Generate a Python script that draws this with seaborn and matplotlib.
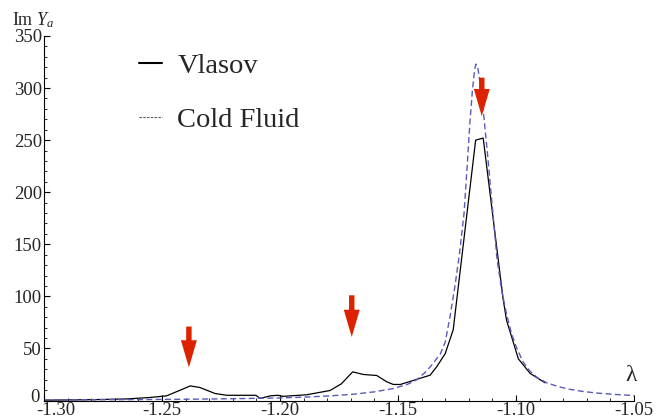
import numpy as np
import pandas as pd
import seaborn as sns
import matplotlib.pyplot as plt
from matplotlib.ticker import MultipleLocator
from matplotlib.transforms import ScaledTranslation

# data
vlasov_x = [-1.300, -1.280, -1.265, -1.255, -1.248, -1.238, -1.234, -1.2275, -1.2225,
            -1.213, -1.2102, -1.2085, -1.204, -1.2008, -1.1987, -1.1887, -1.1788,
            -1.174, -1.1692, -1.1647, -1.159, -1.1548, -1.152, -1.149, -1.1364,
            -1.1336, -1.130, -1.1266, -1.1171, -1.1139, -1.1055, -1.104,
            -1.099, -1.094, -1.0877]
vlasov_y = [0.3, 0.8, 1.5, 2.9, 4.5, 14, 12.5, 6.7, 5,
            5, 5, 2, 4.5, 5, 4, 5.5, 9.6,
            16, 27.5, 25, 24, 18, 15.4, 15.4, 24.3,
            32.4, 45, 68, 250, 252, 98, 77,
            40, 26, 17]

cold_x = [-1.300, -1.280, -1.260, -1.240, -1.220, -1.200, -1.190, -1.180, -1.170,
          -1.160, -1.152, -1.146, -1.142, -1.138, -1.135, -1.132, -1.130, -1.128,
          -1.126, -1.124, -1.122, -1.1205, -1.1195, -1.119, -1.1185, -1.118, -1.1175,
          -1.117, -1.1165, -1.116, -1.1155, -1.115, -1.1135, -1.112, -1.110, -1.108,
          -1.106, -1.104, -1.102, -1.100, -1.097, -1.094, -1.091, -1.087, -1.083,
          -1.078, -1.072, -1.066, -1.058, -1.050]
cold_y = [0.5, 0.7, 0.9, 1.2, 1.7, 2.5, 3.2, 4.3, 5.8,
          8.3, 11.5, 15.5, 20, 28, 36, 45, 56, 80,
          108, 140, 180, 232, 268, 282, 297, 308, 318,
          323, 322, 317, 309, 300, 270, 235, 185, 135,
          105, 83, 65, 52, 37, 28, 22, 17, 14,
          11, 8.8, 7.2, 5.8, 4.8]

# red arrows (x, tip, tail)
arrow_x = [-1.2386, -1.1696, -1.1145]
arrow_tip = [31.7, 61, 273]
arrow_tail = [71, 101, 310]

x_ticks = [-1.30, -1.25, -1.20, -1.15, -1.10, -1.05]
x_tick_labels = ["-1.30", "-1.25", "-1.20", "-1.15", "-1.10", "-1.05"]
y_ticks = [0, 50, 100, 150, 200, 250, 300, 350]

sns.set_style("ticks")
plt.rcParams["font.family"] = ["Liberation Serif", "DejaVu Serif"]
plt.rcParams["mathtext.fontset"] = "custom"
plt.rcParams["mathtext.rm"] = "Liberation Serif"
plt.rcParams["mathtext.it"] = "Liberation Serif:italic"
plt.rcParams["axes.unicode_minus"] = False

fig = plt.figure(figsize=(6.61, 4.20), dpi=100)
ax = fig.add_axes([44 / 661, 19.5 / 420, 590 / 661, 364.5 / 420])

df_v = pd.DataFrame({"x": vlasov_x, "y": vlasov_y})
df_c = pd.DataFrame({"x": cold_x, "y": cold_y})

sns.lineplot(data=df_v, x="x", y="y", ax=ax, color="black", linewidth=0.9,
             label="Vlasov", sort=False)
sns.lineplot(data=df_c, x="x", y="y", ax=ax, color="#5a5abb", linewidth=1.0,
             dashes=False, label="Cold Fluid", sort=False)
ax.lines[1].set_dashes((4.3, 2.4))

red = "#dd2200"
for xa, yt, yb in zip(arrow_x, arrow_tip, arrow_tail):
    ax.annotate("", xy=(xa, yt), xytext=(xa, yb),
                arrowprops=dict(arrowstyle="simple,head_length=1.4,head_width=0.82,tail_width=0.28",
                                mutation_scale=14, color=red, lw=0,
                                shrinkA=0, shrinkB=0))

ax.set_xlim(-1.30, -1.05)
ax.set_ylim(0, 350)
ax.set_xticks(x_ticks)
ax.set_xticklabels(x_tick_labels)
ax.set_yticks(y_ticks)
ax.xaxis.set_minor_locator(MultipleLocator(0.01))
ax.yaxis.set_minor_locator(MultipleLocator(10))
ax.tick_params(which="major", direction="in", length=4, width=0.8, labelsize=13.5,
               pad=1.5, color="black")
ax.tick_params(axis="x", which="major", pad=1)
ax.tick_params(which="minor", direction="in", length=2.2, width=0.6, color="black")
ax.set_xlabel("")
ax.set_ylabel("")
for s in ["top", "right"]:
    ax.spines[s].set_visible(False)
for s in ["left", "bottom"]:
    ax.spines[s].set_linewidth(0.8)
    ax.spines[s].set_color("black")

# labels at the axis corner are nudged apart
lbl = ax.get_xticklabels()[0]
lbl.set_transform(lbl.get_transform() + ScaledTranslation(12 / 100, 0, fig.dpi_scale_trans))
lbl0 = ax.get_yticklabels()[0]
lbl0.set_transform(lbl0.get_transform() + ScaledTranslation(-2 / 100, 5 / 100, fig.dpi_scale_trans))

fig.text(12 / 661, 1 - 25.5 / 420, "Im $Y_a$", fontsize=13, ha="left", va="baseline")
ax.text(-1.0512, 14, "λ", fontsize=17, ha="center", va="bottom")

leg = ax.legend(loc="upper left", bbox_to_anchor=(139 / 661, 1 - 53 / 420),
                bbox_transform=fig.transFigure, frameon=False, fontsize=20.5,
                handlelength=0.8, handletextpad=0.55, labelspacing=1.0,
                borderpad=0, borderaxespad=0)
leg.get_lines()[0].set_linewidth(1.5)
leg.get_lines()[1].set_color("0.35")
leg.get_lines()[1].set_linewidth(0.8)
leg.get_lines()[1].set_dashes((2.2, 1.2))

fig.savefig("out.png", dpi=100)
